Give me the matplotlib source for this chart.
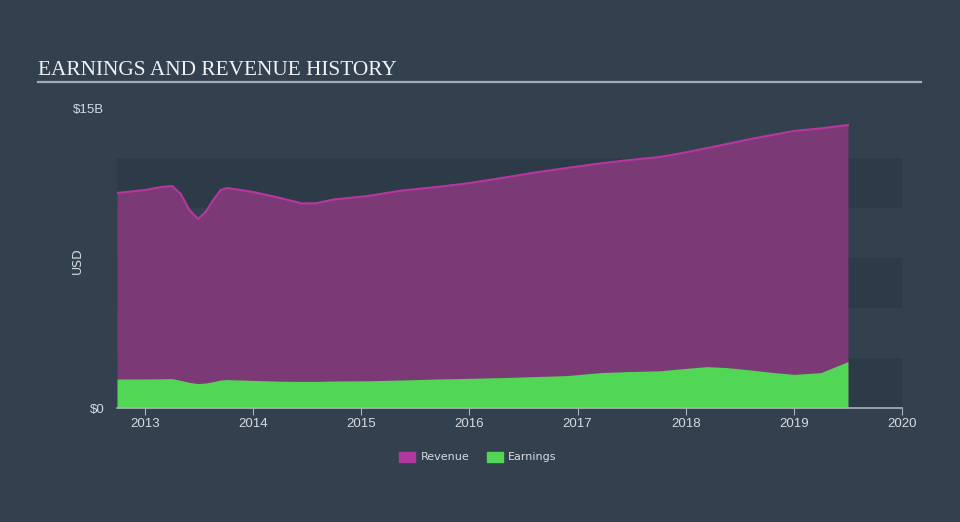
import numpy as np
import matplotlib.pyplot as plt
from matplotlib.patches import Patch
from matplotlib.lines import Line2D

# data (year fraction, USD billions)
years = [2012.74, 2013.0, 2013.15, 2013.25, 2013.33, 2013.41, 2013.49, 2013.56, 2013.63,
         2013.70, 2013.76, 2014.0, 2014.25, 2014.45, 2014.57, 2014.75, 2015.06, 2015.37,
         2015.7, 2015.98, 2016.3, 2016.6, 2016.9, 2017.21, 2017.45, 2017.76, 2018.0,
         2018.2, 2018.38, 2018.6, 2018.8, 2019.0, 2019.25, 2019.5]
revenue = [10.75, 10.9, 11.05, 11.1, 10.7, 9.9, 9.45, 9.8, 10.4,
           10.9, 11.0, 10.8, 10.5, 10.23, 10.23, 10.43, 10.6, 10.87,
           11.05, 11.23, 11.5, 11.77, 12.0, 12.23, 12.38, 12.55, 12.78,
           13.0, 13.2, 13.45, 13.65, 13.85, 13.98, 14.15]
earnings = [1.45, 1.45, 1.46, 1.47, 1.38, 1.28, 1.22, 1.25, 1.32,
            1.4, 1.42, 1.38, 1.34, 1.33, 1.33, 1.35, 1.36, 1.4,
            1.45, 1.48, 1.52, 1.57, 1.62, 1.77, 1.82, 1.86, 1.98,
            2.07, 2.02, 1.9, 1.78, 1.68, 1.77, 2.32]

year_ticks = [2013, 2014, 2015, 2016, 2017, 2018, 2019, 2020]

bg = '#33414f'
band = '#2d3a48'
rev_fill = '#7b3a75'
rev_line = '#b8379f'
earn_fill = '#52d655'
text_col = '#d6dae0'

fig = plt.figure(figsize=(9.6, 5.22), dpi=100)
fig.patch.set_facecolor(bg)

ax = fig.add_axes([117/960, 1 - 408/522, (902 - 117)/960, 300/522])
ax.set_facecolor(bg)
ax.set_xlim(2012.74, 2020.0)
ax.set_ylim(0, 15)

for lo in [0, 5, 10]:
    ax.axhspan(lo, lo + 2.5, color=band, zorder=0, lw=0)

ax.fill_between(years, 0, revenue, color=rev_fill, lw=0, zorder=2)
ax.plot(years, revenue, color=rev_line, lw=1.5, zorder=3)
ax.fill_between(years, 0, earnings, color=earn_fill, lw=0, zorder=4)

for s in ['top', 'right', 'left']:
    ax.spines[s].set_visible(False)
ax.spines['bottom'].set_color('#a9b0ba')
ax.spines['bottom'].set_linewidth(1.2)
ax.spines['bottom'].set_zorder(5)

ax.set_xticks(year_ticks)
ax.set_xticklabels([str(y) for y in year_ticks], fontsize=9.5, color=text_col,
                   family='Liberation Sans')
ax.tick_params(axis='x', length=5, color='#a9b0ba', pad=2)
ax.set_yticks([0, 15])
ax.set_yticklabels(['$0', '$15B'], fontsize=9.5, color=text_col, family='Liberation Sans')
ax.tick_params(axis='y', length=0, pad=9)
ax.set_ylabel('USD', fontsize=9, color=text_col)
ax.yaxis.set_label_coords((84 - 117) / 785, 0.49)

fig.text(38/960, 1 - 75/522, 'EARNINGS AND REVENUE HISTORY', fontsize=15.3,
         family='Liberation Serif', color='#f0f2f4', va='baseline', ha='left')
fig.add_artist(Line2D([38/960, 921/960], [1 - 82/522, 1 - 82/522],
                      color='#a4abb4', lw=1.6, transform=fig.transFigure))

handles = [Patch(color='#b0389e', label='Revenue'), Patch(color=earn_fill, label='Earnings')]
leg = fig.legend(handles=handles, loc='center', bbox_to_anchor=(478/960, 1 - 457/522),
                 ncol=2, frameon=False, fontsize=8, handlelength=1.4, handleheight=1.0,
                 columnspacing=1.6, handletextpad=0.5)
for t in leg.get_texts():
    t.set_color(text_col)

fig.savefig('out.png', dpi=100, facecolor=bg)
